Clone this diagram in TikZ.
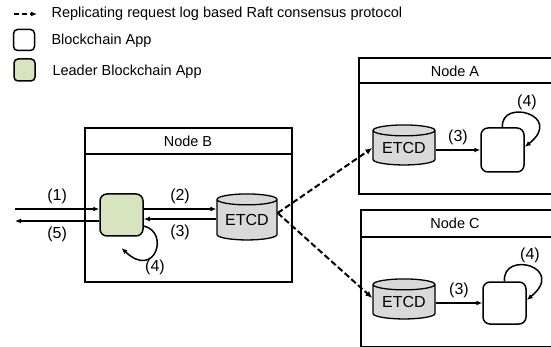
\documentclass[tikz,border=0pt]{standalone}
\usepackage{fontspec}
\setmainfont{Liberation Sans}
\usetikzlibrary{arrows.meta,shapes.geometric,calc}

\definecolor{leadgreen}{HTML}{D7E4BD}
\definecolor{etcdgray}{HTML}{D9D9D9}

\begin{document}
\begin{tikzpicture}[x=1pt,y=-1pt,
	font=\fontsize{14.5}{17}\selectfont,
	app/.style={draw, line width=1.5pt, rounded corners=7pt, minimum width=43pt, minimum height=43pt, fill=white},
	leader/.style={app, fill=leadgreen},
	etcd/.style={cylinder, shape border rotate=90, draw, line width=1.3pt, fill=etcdgray, aspect=0.25, minimum width=62pt, minimum height=40pt, inner sep=0pt, font=\fontsize{16}{18}\selectfont},
	lbl/.style={font=\fontsize{16}{18}\selectfont},
	flow/.style={-{Latex[length=6pt,width=5pt]}, line width=1.5pt},
	repl/.style={-{Latex[length=7pt,width=6pt]}, line width=2pt, dash pattern=on 6pt off 3pt},
	frame/.style={line width=1.4pt}]

				\useasboundingbox (0,0) rectangle (551,347);
				\clip (0,0) rectangle (551,347);

				% Legend
				\coordinate (lgs) at (14,14);
				\coordinate (lge) at (37,14);
				\draw[-{Latex[length=6pt,width=5pt]}, line width=2pt, dash pattern=on 5pt off 3pt] (lgs) -- (lge);
				\node[anchor=west] (lgtxt) at (48,14) {Replicating request log based Raft consensus protocol};
				\node[app, minimum width=21pt, minimum height=21pt, rounded corners=4pt] (lgapp) at (24,40) {};
				\node[anchor=west] (lgapptxt) at (48,41) {Blockchain App};
				\node[leader, minimum width=21pt, minimum height=22pt, rounded corners=4pt] (lglead) at (24.5,70) {};
				\node[anchor=west] (lgleadtxt) at (49,72) {Leader Blockchain App};

				% Node B (leader)
				\draw[frame] (85,128) rectangle (292,282);
				\draw[frame] (85,154) -- (292,154);
				\node (titleB) at (188,141) {Node B};
				\node[leader, minimum height=42pt] (appB) at (121.5,215) {};
				\node[etcd, minimum width=60pt, minimum height=46pt] (etcdB) at (247,220) {ETCD};

				% Client requests
				\coordinate (in1) at (15,209);
				\coordinate (out5) at (15,221);
				\draw[flow] (in1) -- (in1 -| appB.west) node[lbl, midway, above=1pt] {(1)};
				\draw[flow] (appB.west |- out5) -- (out5) node[lbl, midway, below=2pt] {(5)};
				\draw[flow] ([yshift=6pt]appB.east) -- ([yshift=6pt]appB.east -| etcdB.west) node[lbl, midway, above=1pt] {(2)};
				\draw[flow] ([yshift=-4pt]appB.east -| etcdB.west) -- ([yshift=-4pt]appB.east) node[lbl, midway, below=2pt] {(3)};
				\draw[flow] ([yshift=-11pt]appB.east) .. controls (170,232) and (155,280) .. ([yshift=-33pt]appB.center);
				\node[lbl] (loopB) at (155,267) {(4)};

				% Node A
				\draw[frame] (359,58) rectangle (560,194);
				\draw[frame] (359,83) -- (560,83);
				\node (titleA) at (455,71) {Node A};
				\node[etcd] (etcdA) at (404,148) {ETCD};
				\node[app, minimum height=44pt] (appA) at (502.5,150) {};
				\draw[flow] (etcdA.east |- appA.west) -- (appA.west) node[lbl, midway, above=1pt] {(3)};
				\draw[flow] (appA.north) .. controls (500,98) and (565,115) .. ([yshift=3pt]appA.east);
				\node[lbl] (loopA) at (527,102) {(4)};

				% Node C
				\draw[frame] (361,210) rectangle (560,347);
				\draw[frame] (361,237) -- (560,237);
				\node (titleC) at (455,223) {Node C};
				\node[etcd] (etcdC) at (404,302) {ETCD};
				\node[app, minimum height=42pt] (appC) at (504.5,303) {};
				\draw[flow] (etcdC.east |- appC.west) -- (appC.west) node[lbl, midway, above=1pt] {(3)};
				\draw[flow] (appC.north) .. controls (502,250) and (567,267) .. ([yshift=3pt]appC.east);
				\node[lbl] (loopC) at (530,255) {(4)};

				% Replication to followers
				\coordinate (rep) at ([yshift=7pt]etcdB.east);
				\draw[repl] (rep) -- (etcdA.west);
				\draw[repl] (rep) -- ([yshift=4pt]etcdC.west);

			\end{tikzpicture}
\end{document}
